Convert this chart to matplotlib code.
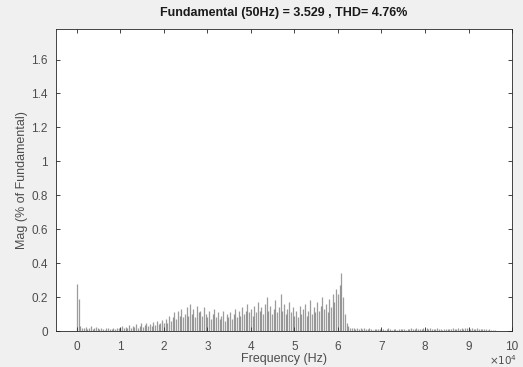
import matplotlib
matplotlib.use('Agg')
import matplotlib.pyplot as plt
import numpy as np

# FFT spectrum, bins every 400 Hz from 0 to 96 kHz
step_hz = 400
mag = [
    # 0 - 9.6 kHz
    0.28, 0.19, 0.03, 0.02, 0.015, 0.025, 0.01, 0.02, 0.03, 0.012, 0.02, 0.025, 0.015,
    0.01, 0.02, 0.012, 0.008, 0.015, 0.02, 0.01, 0.012, 0.018, 0.01, 0.015, 0.02,
    # 10 - 19.6 kHz
    0.02, 0.03, 0.015, 0.025, 0.02, 0.035, 0.02, 0.03, 0.025, 0.04, 0.02, 0.03, 0.045,
    0.025, 0.035, 0.05, 0.03, 0.04, 0.03, 0.055, 0.035, 0.06, 0.04, 0.05, 0.065,
    # 20 - 29.6 kHz
    0.05, 0.07, 0.045, 0.09, 0.06, 0.08, 0.11, 0.07, 0.12, 0.09, 0.13, 0.08, 0.1,
    0.14, 0.09, 0.16, 0.1, 0.13, 0.08, 0.15, 0.11, 0.12, 0.09, 0.14, 0.1,
    # 30 - 39.6 kHz
    0.08, 0.12, 0.07, 0.1, 0.13, 0.08, 0.11, 0.07, 0.09, 0.12, 0.06, 0.1, 0.08,
    0.11, 0.07, 0.1, 0.13, 0.08, 0.12, 0.09, 0.14, 0.1, 0.12, 0.16, 0.11,
    # 40 - 49.6 kHz
    0.13, 0.09, 0.15, 0.11, 0.17, 0.12, 0.14, 0.1, 0.16, 0.2, 0.12, 0.15, 0.1,
    0.13, 0.18, 0.11, 0.14, 0.22, 0.12, 0.16, 0.1, 0.13, 0.17, 0.11, 0.14,
    # 50 - 59.6 kHz
    0.09, 0.12, 0.08, 0.15, 0.1, 0.13, 0.16, 0.09, 0.12, 0.18, 0.1, 0.14, 0.11,
    0.17, 0.12, 0.15, 0.2, 0.13, 0.16, 0.11, 0.19, 0.14, 0.22, 0.17, 0.25,
    # 60 - 69.6 kHz
    0.22, 0.27, 0.34, 0.2, 0.1, 0.05, 0.03, 0.02, 0.015, 0.018, 0.012, 0.015, 0.01,
    0.02, 0.012, 0.015, 0.01, 0.012, 0.015, 0.01, 0.008, 0.012, 0.01, 0.014, 0.01,
    # 70 - 79.6 kHz
    0.012, 0.01, 0.008, 0.012, 0.015, 0.01, 0.008, 0.01, 0.012, 0.008, 0.01, 0.014, 0.01,
    0.012, 0.008, 0.01, 0.012, 0.015, 0.01, 0.012, 0.018, 0.01, 0.014, 0.012, 0.016,
    # 80 - 89.6 kHz
    0.012, 0.015, 0.01, 0.018, 0.012, 0.014, 0.01, 0.016, 0.012, 0.01, 0.008, 0.012, 0.01,
    0.014, 0.01, 0.012, 0.016, 0.012, 0.014, 0.018, 0.012, 0.015, 0.012, 0.016, 0.02,
    # 90 - 96 kHz
    0.015, 0.012, 0.018, 0.014, 0.012, 0.016, 0.012, 0.014, 0.01, 0.012, 0.01, 0.008,
    0.01, 0.006, 0.008, 0.005,
]
freq = np.arange(len(mag)) * step_hz

xticks = [i * 10000 for i in range(11)]
xticklabels = [str(i) for i in range(11)]
yticks = [0, 0.2, 0.4, 0.6, 0.8, 1, 1.2, 1.4, 1.6]
yticklabels = ['0', '0.2', '0.4', '0.6', '0.8', '1', '1.2', '1.4', '1.6']

plt.rcParams['font.family'] = ['Liberation Sans', 'DejaVu Sans']

fig = plt.figure(figsize=(5.23, 3.67), dpi=100, facecolor='#f0f0f0')
ax = fig.add_axes([0.107, 0.098, 0.872, 0.823])
ax.set_facecolor('white')

ax.vlines(freq, 0, mag, colors='#3a3a3a', linewidth=0.9, alpha=0.5)

ax.set_xlim(-4800, 100000)
ax.set_ylim(0, 1.78)
ax.set_xticks(xticks)
ax.set_xticklabels(xticklabels)
ax.set_yticks(yticks)
ax.set_yticklabels(yticklabels)
ax.tick_params(direction='in', length=3, width=0.6, colors='#262626',
               labelcolor='#4d4d4d', labelsize=8.5, top=True, right=True)
ax.tick_params(axis='x', pad=7)
ax.tick_params(axis='y', pad=6)
for s in ax.spines.values():
    s.set_color('#262626')
    s.set_linewidth(0.6)

ax.set_xlabel('Frequency (Hz)', fontsize=9, color='#4d4d4d', labelpad=0)
ax.set_ylabel('Mag (% of Fundamental)', fontsize=9, color='#4d4d4d', labelpad=2)
ax.set_title('Fundamental (50Hz) = 3.529 , THD= 4.76%', fontsize=9,
             fontweight='bold', color='#1a1a1a', pad=9)
fig.text(0.962, 0.006, r'$\times 10^4$', fontsize=7.5, color='#4d4d4d', ha='center')

fig.savefig('out.png', dpi=100, facecolor=fig.get_facecolor())
